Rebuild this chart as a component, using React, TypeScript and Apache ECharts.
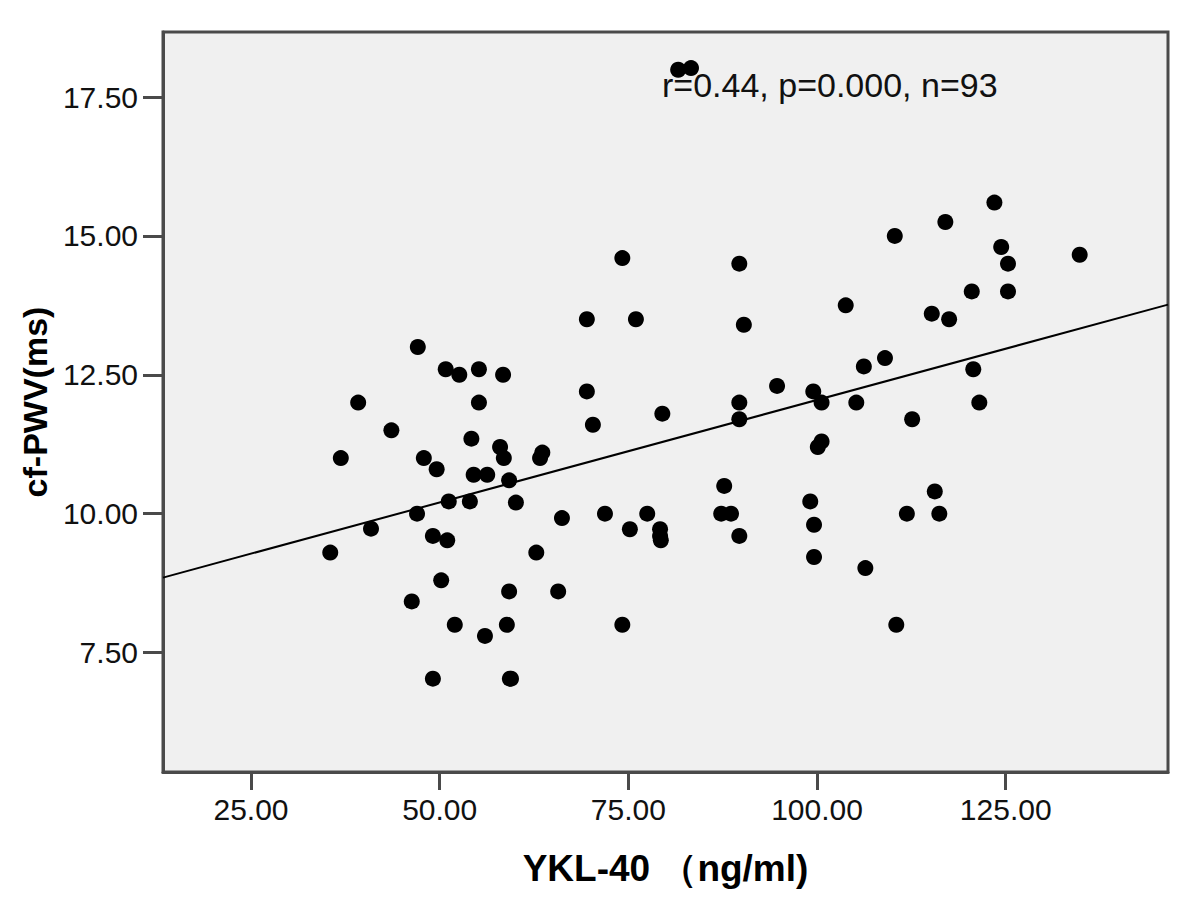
import React, { useEffect, useRef } from "react";
import * as echarts from "echarts";

const ykl40: number[] = [
  35.5, 36.9, 39.2, 40.9, 43.6, 46.3, 47.1, 47.0, 47.9, 49.1,
  49.1, 49.6, 50.2, 50.8, 51.0, 51.2, 52.0, 52.6, 54.0, 54.2,
  54.5, 55.2, 55.2, 56.0, 56.3, 58.0, 58.4, 58.5, 58.9, 59.2,
  59.2, 59.3, 59.45, 60.1, 62.8, 63.3, 63.6, 65.7, 66.2, 69.5,
  69.5, 70.3, 71.9, 74.2, 74.2, 75.2, 76.0, 77.5, 79.2, 79.2,
  79.3, 79.5, 81.6, 83.3, 87.7, 87.3, 88.6, 89.7, 89.7, 89.7,
  89.7, 90.3, 94.7, 99.1, 99.5, 99.6, 99.6, 100.1, 100.6, 100.6,
  103.8, 105.2, 106.2, 106.4, 109.0, 110.3, 110.5, 111.9, 112.6, 115.2,
  115.6, 116.2, 117.0, 117.5, 120.5, 120.7, 121.5, 123.5, 124.4, 125.3,
  125.3, 134.8,
];

const cfPwv: number[] = [
  9.30, 11.00, 12.00, 9.73, 11.50, 8.42, 13.00, 10.00, 11.00, 9.60,
  7.03, 10.80, 8.80, 12.60, 9.52, 10.22, 8.00, 12.50, 10.22, 11.35,
  10.70, 12.00, 12.60, 7.80, 10.70, 11.20, 12.50, 11.00, 8.00, 10.60,
  8.60, 7.03, 7.03, 10.20, 9.30, 11.00, 11.10, 8.60, 9.92, 13.50,
  12.20, 11.60, 10.00, 8.00, 14.60, 9.72, 13.50, 10.00, 9.72, 9.60,
  9.52, 11.80, 17.99, 18.02, 10.50, 10.00, 10.00, 9.60, 14.50, 12.00,
  11.70, 13.40, 12.30, 10.22, 12.20, 9.80, 9.22, 11.20, 11.30, 12.00,
  13.75, 12.00, 12.65, 9.02, 12.80, 15.00, 8.00, 10.00, 11.70, 13.60,
  10.40, 10.00, 15.25, 13.50, 14.00, 12.60, 12.00, 15.60, 14.80, 14.00,
  14.50, 14.66,
];

const xTicks: number[] = [25, 50, 75, 100, 125];
const yTicks: number[] = [7.5, 10, 12.5, 15, 17.5];

const xRange: number[] = [13.34, 146.5];
const yRange: number[] = [5.35, 18.67];

// fit line
const fitIntercept = 8.357;
const fitSlope = 0.0369;

const statText = "r=0.44, p=0.000, n=93";
const xTitle = "YKL-40 （ng/ml)";
const yTitle = "cf-PWV(ms)";

export default function App() {
  const ref = useRef<HTMLDivElement>(null);

  useEffect(() => {
    if (!ref.current) return;
    const chart = echarts.init(ref.current, undefined, { renderer: "svg" });
    const font = "'Liberation Sans', Arial, sans-serif";
    const frame = "#4a4a4a";
    const points = ykl40.map((x, i) => [x, cfPwv[i]]);
    const fitLine = xRange.map((x) => [x, fitIntercept + fitSlope * x]);

    chart.setOption({
      animation: false,
      backgroundColor: "#ffffff",
      grid: {
        left: 163,
        top: 32,
        right: 32,
        bottom: 133,
        show: true,
        backgroundColor: "#f0f0f0",
        borderColor: frame,
        borderWidth: 3,
      },
      xAxis: {
        type: "value",
        min: xRange[0],
        max: xRange[1],
        name: xTitle,
        nameLocation: "middle",
        nameGap: 78,
        nameTextStyle: {
          fontFamily: font,
          fontSize: 37,
          fontWeight: "bold",
          color: "#000",
        },
        splitLine: { show: false },
        axisLine: { show: true, onZero: false, lineStyle: { color: frame, width: 3 } },
        axisTick: {
          show: true,
          length: 18,
          customValues: xTicks,
          lineStyle: { color: frame, width: 3 },
        },
        axisLabel: {
          customValues: xTicks,
          margin: 22,
          fontFamily: font,
          fontSize: 30,
          color: "#111",
          formatter: (v: number) => v.toFixed(2),
        },
      },
      yAxis: {
        type: "value",
        min: yRange[0],
        max: yRange[1],
        name: yTitle,
        nameLocation: "middle",
        nameGap: 110,
        nameTextStyle: {
          fontFamily: font,
          fontSize: 34,
          fontWeight: "bold",
          color: "#000",
        },
        splitLine: { show: false },
        axisLine: { show: true, onZero: false, lineStyle: { color: frame, width: 3 } },
        axisTick: {
          show: true,
          length: 20,
          customValues: yTicks,
          lineStyle: { color: frame, width: 3 },
        },
        axisLabel: {
          customValues: yTicks,
          margin: 25,
          fontFamily: font,
          fontSize: 30,
          color: "#111",
          formatter: (v: number) => v.toFixed(2),
        },
      },
      graphic: [
        {
          type: "text",
          left: 662,
          top: 68,
          z: 10,
          style: {
            text: statText,
            fontFamily: font,
            fontSize: 34,
            fill: "#111",
          },
        },
      ],
      series: [
        {
          type: "line",
          data: fitLine,
          symbol: "none",
          lineStyle: { color: "#000", width: 2 },
          z: 2,
          silent: true,
        },
        {
          type: "scatter",
          data: points,
          symbol: "circle",
          symbolSize: 16,
          itemStyle: { color: "#000", opacity: 1 },
          z: 3,
        },
      ],
    });

    return () => chart.dispose();
  }, []);

  return (
    <div
      ref={ref}
      style={{ position: "fixed", left: 0, top: 0, width: 1200, height: 905 }}
    />
  );
}
